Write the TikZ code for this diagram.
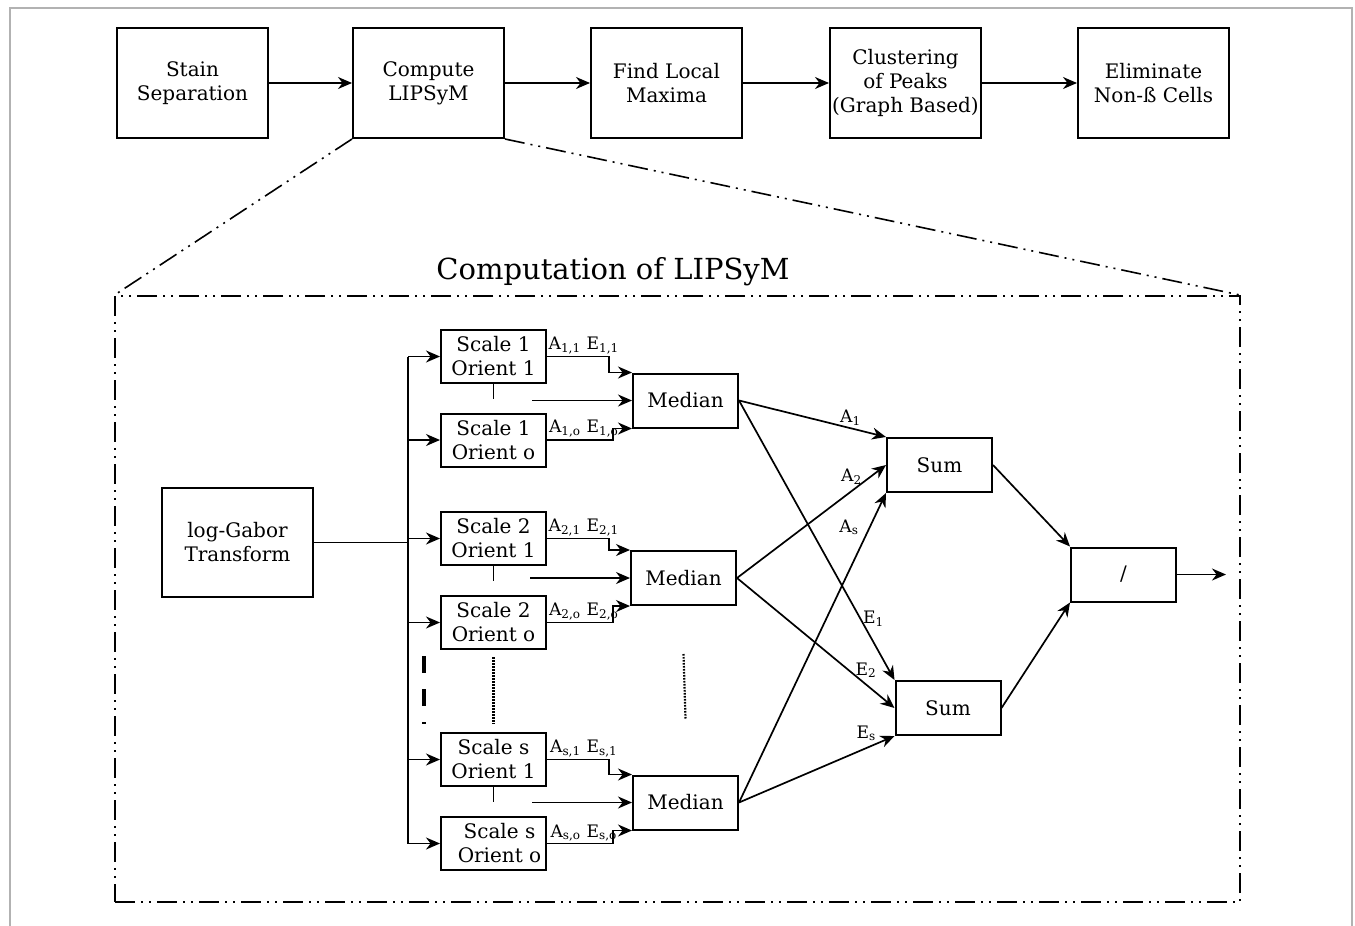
\documentclass[tikz,border=0pt]{standalone}
\usepackage{fontspec}
\setmainfont{DejaVu Serif}
\usetikzlibrary{arrows.meta, positioning, calc}
\tikzset{
  topbox/.style  = {rectangle, draw, line width=1pt, align=center,
                    minimum width=75.5pt, minimum height=55pt, inner sep=1pt},
  scbox/.style   = {rectangle, draw, line width=1pt, align=center,
                    minimum width=52.5pt, minimum height=26.5pt, inner sep=1pt},
  opbox/.style   = {rectangle, draw, line width=1pt,
                    minimum width=52.5pt, minimum height=27pt},
  arr/.style     = {-{Stealth[length=7pt, width=6pt]}, line width=0.85pt},
  zoomline/.style= {line width=0.8pt,
                    dash pattern=on 10pt off 3pt on 1pt off 3pt on 1pt off 3pt},
  dots/.style    = {line width=1.1pt, dash pattern=on 0.8pt off 0.7pt},
  lbl/.style     = {font=\fontsize{8.6}{10}\selectfont, inner sep=1pt},
}

\begin{document}
\begin{tikzpicture}[x=0.5pt, y=-0.5pt, node distance=41.5pt]
\useasboundingbox (0,0) rectangle (1355,926);

% ---- Page border --------------------------------------------------------------
\draw[gray!60, line width=1.2pt] (10,926) -- (10,8) -- (1352,8) -- (1352,926);

% ---- Pipeline row -------------------------------------------------------------
\node[topbox] (stain) at (192.5,83) {Stain\\Separation};
\node[topbox, right=of stain] (lips) {Compute\\LIPSyM};
\node[topbox, right=42.5pt of lips] (lmax) {Find Local\\Maxima};
\node[topbox, right=43pt of lmax] (clus) {Clustering\\of Peaks\\(Graph Based)};
\node[topbox, right=47.5pt of clus] (elim) {Eliminate\\Non-ß Cells};

\foreach \a/\b in {stain/lips, lips/lmax, lmax/clus, clus/elim}
  \draw[arr] (\a) -- (\b);

% ---- Zoomed frame ---------------------------------------------------------------
\node[zoomline, draw, minimum width=562.5pt, minimum height=303pt, inner sep=0pt]
  (frame) at (677.5,599) {};
\node[font=\fontsize{14.5}{17}\selectfont] (title) at (613,272) {Computation of LIPSyM};

\draw[zoomline] (lips.south west) -- (frame.north west);
\draw[zoomline] (lips.south east) -- (frame.north east);

% ---- log-Gabor and bus ------------------------------------------------------------
\node[topbox, minimum height=54.5pt] (lg) at (237.5,542.5) {log-Gabor\\Transform};

\node[scbox] (s11) at (493.5,356.5) {Scale 1\\Orient 1};
\node[scbox] (s1o) at (493.5,440)   {Scale 1\\Orient o};
\node[scbox] (s21) at (493.5,538.5) {Scale 2\\Orient 1};
\node[scbox] (s2o) at (493.5,622.5) {Scale 2\\Orient o};
\node[scbox] (ss1) at (493.5,759.5) {Scale s\\Orient 1};
\node[scbox] (sso) at (493.5,843.5) {\hspace*{6pt}Scale s\\\hspace*{6pt}Orient o};

\coordinate (bus) at (408,548);
\draw[line width=0.85pt] (lg.east) -- (bus |- lg.east);
\draw[line width=0.85pt] (bus |- s11.west) -- (bus |- sso.west);
\foreach \s in {s11, s1o, s21, s2o, ss1, sso}
  \draw[arr] (bus |- \s.west) -- (\s.west);

\draw[line width=1.6pt, dash pattern=on 8.5pt off 8pt]
  ($(bus |- s2o.south)+(16,6)$) -- ++(0,68);
\draw[dots] ([yshift=-3.5pt]s2o.south) -- ([yshift=4pt]ss1.north);

% ---- Median blocks ------------------------------------------------------------------
\node[opbox] (m1) at (685.5,400.5) {Median};
\node[opbox] (m2) at (683.5,578)   {Median};
\node[opbox] (m3) at (685.5,802.5) {Median};

\draw[dots] ([yshift=-24pt]m2.south) -- ([yshift=28pt]m3.north);

\foreach \t/\b/\m/\k in {s11/s1o/m1/1, s21/s2o/m2/2, ss1/sso/m3/s} {
  \draw[arr] (\t.east) -- node[lbl, above, xshift=3pt]{A\textsubscript{\k,1} E\textsubscript{\k,1}}
    ++(62,0) |- (\m.north west);
  \draw[arr] (\b.east) -- node[lbl, above, xshift=2pt]{A\textsubscript{\k,o} E\textsubscript{\k,o}}
    ++(66,0) |- (\m.south west);
  \draw[line width=0.85pt] (\t.south) -- ++(0,15);
  \draw[arr] ([xshift=-50pt]\m.west) -- (\m.west);
}

% ---- Sums and ratio -------------------------------------------------------------------
\node[opbox] (sum1) at (939.5,465) {Sum};
\node[opbox] (sum2) at (948,708)   {Sum};
\node[opbox] (div)  at (1123.5,574.5) {/};

\draw[arr] (m1.east) -- node[lbl, pos=.76, above]{A\textsubscript{1}} (sum1.north west);
\draw[arr] (m2.east) -- node[lbl, pos=.77, above=2pt]{A\textsubscript{2}} (sum1.west);
\draw[arr] (m3.east) -- node[lbl, pos=.89, left=4pt]{A\textsubscript{s}} (sum1.south west);
\draw[arr] (m1.east) -- node[lbl, pos=.78, right]{E\textsubscript{1}} (sum2.north west);
\draw[arr] (m2.east) -- node[lbl, pos=.82, above=2pt]{E\textsubscript{2}} (sum2.west);
\draw[arr] (m3.east) -- node[lbl, pos=.82, above=2pt]{E\textsubscript{s}} (sum2.south west);

\draw[arr] (sum1.east) -- (div.north west);
\draw[arr] (sum2.east) -- (div.south west);

\coordinate[right=24.5pt of div] (out);
\draw[arr] (div) -- (out);

\end{tikzpicture}
\end{document}
